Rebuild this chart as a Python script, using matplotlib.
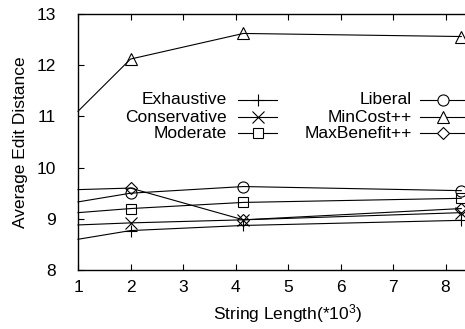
import matplotlib
matplotlib.use('Agg')
import matplotlib.pyplot as plt
from matplotlib.lines import Line2D

plt.rcParams['font.family'] = ['Liberation Sans', 'DejaVu Sans']
plt.rcParams['mathtext.fontset'] = 'custom'
plt.rcParams['mathtext.rm'] = 'Liberation Sans'
plt.rcParams['mathtext.it'] = 'Liberation Sans'

# string length in thousands
length = [1, 2, 4.15, 8.3]

exhaustive = [8.60, 8.77, 8.87, 8.97]
conservative = [8.88, 8.92, 8.98, 9.12]
moderate = [9.12, 9.20, 9.32, 9.40]
liberal = [9.33, 9.50, 9.63, 9.55]
mincost = [11.10, 12.12, 12.62, 12.56]
maxbenefit = [9.57, 9.60, 8.98, 9.20]

series = [
    ('Exhaustive', exhaustive, '+', 9),
    ('Conservative', conservative, 'x', 8),
    ('Moderate', moderate, 's', 7.5),
    ('Liberal', liberal, 'o', 8),
    ('MinCost++', mincost, '^', 8),
    ('MaxBenefit++', maxbenefit, 'D', 6),
]

FS = 12.5
W, H = 465, 329
fig = plt.figure(figsize=(W / 100, H / 100), dpi=100)

def fx(px):
    return px / W

def fy(py):
    return 1 - py / H

# axes run past the right edge of the figure
ax = fig.add_axes([fx(78), fy(270), 420 / W, 256 / H])

for name, vals, mk, ms in series:
    ax.plot(length, vals, color='black', lw=0.8, marker=mk, ms=ms,
            mfc='none', mec='black', mew=0.8, markevery=[1, 2, 3],
            clip_on=False)

ax.set_xlim(1, 9)
ax.set_ylim(8, 13)
ax.set_xticks(range(1, 9))
ax.set_yticks(range(8, 14))
ax.tick_params(direction='in', length=4, width=0.8, labelsize=FS,
               top=True, right=True)
ax.tick_params(axis='x', pad=7)
ax.tick_params(axis='y', pad=16)
for s in ax.spines.values():
    s.set_linewidth(1.0)

ax.set_xlabel(r'String Length(*10$^{3}$)', fontsize=FS, labelpad=5)
ax.set_ylabel('Average Edit Distance', fontsize=FS, labelpad=6)

# two-column key: label right-aligned, sample line with marker after it
rows = [100, 117, 133]
cols = [(227, 238, 277, 258), (412, 420, 470, 443)]
for i, (name, vals, mk, ms) in enumerate(series):
    col = cols[i // 3]
    y = rows[i % 3]
    fig.text(fx(col[0]), fy(y), name, ha='right', va='center', fontsize=FS)
    fig.add_artist(Line2D([fx(col[1]), fx(col[2])], [fy(y), fy(y)],
                          transform=fig.transFigure, color='black', lw=0.8))
    fig.add_artist(Line2D([fx(col[3])], [fy(y)], transform=fig.transFigure,
                          marker=mk, ms=ms, mfc='white', mec='black',
                          mew=0.8, ls='none'))

fig.savefig('out.png', dpi=100)
